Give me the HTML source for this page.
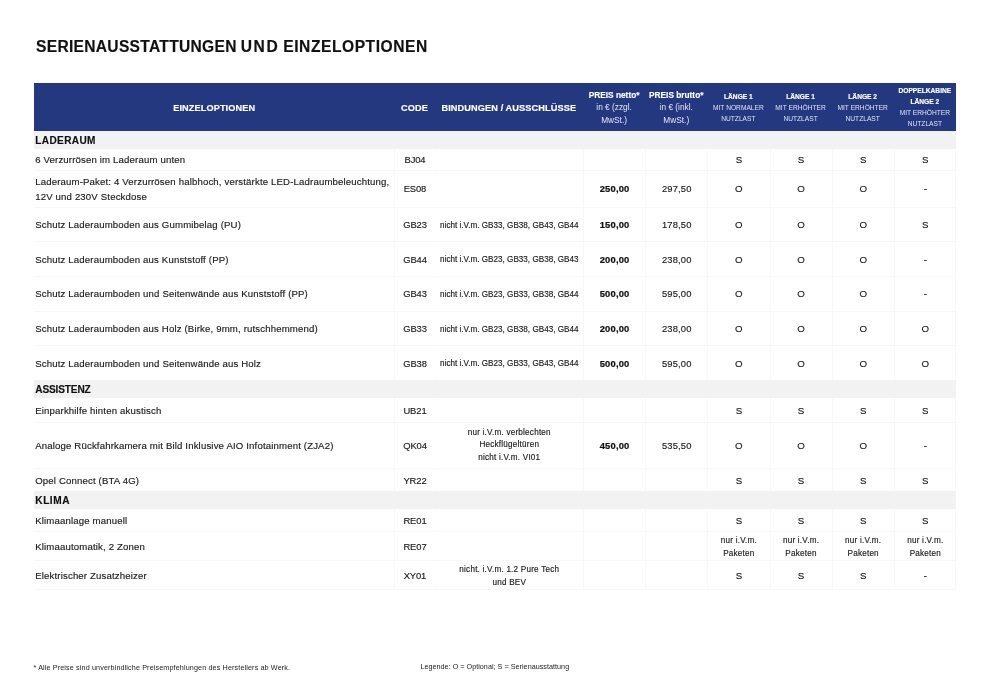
<!DOCTYPE html>
<html lang="de">
<head>
<meta charset="utf-8">
<title>Serienausstattungen und Einzeloptionen</title>
<style>
*{box-sizing:border-box;margin:0;padding:0}
html,body{width:990px;height:700px;background:#fff;overflow:hidden}
body{font-family:"Liberation Sans",sans-serif;color:#1a1a1a;-webkit-text-stroke:.15px}
.page{position:relative;width:990px;height:700px;background:#fff}
.title{position:absolute;left:0;top:38px;width:500px;height:18px;font-size:15.6px;line-height:18px;font-weight:700;color:#111;white-space:nowrap}
.title span{position:absolute;top:0}
.title .w1{left:36px;letter-spacing:.29px}
.title .w2{left:240.7px;letter-spacing:1.6px}
.title .w3{left:283.3px;letter-spacing:.54px}
.table{position:absolute;left:34px;top:83px;width:921.9px;height:507px}
.thead{position:absolute;left:0;width:100%;background:#243880;color:#fff}
.th{position:absolute;top:0;height:100%;display:flex;align-items:center;justify-content:center;text-align:center;white-space:nowrap}
.th.h1{font-size:9.2px;font-weight:700;padding-top:1px;letter-spacing:.1px}
.th.h2{font-size:8.3px;line-height:12.8px;color:#e3e7f4;-webkit-text-stroke:0;padding-top:1.4px}
.th.h2 b{color:#fff;-webkit-text-stroke:.15px}
.th.h3{font-size:6.65px;line-height:11.1px;color:#dfe4f3;padding-top:.8px;-webkit-text-stroke:0}
.th.h3 b{color:#fff;-webkit-text-stroke:.15px}
.sec{position:absolute;left:0;width:100%;background:#f2f2f2;padding-top:1.6px;font-size:10.1px;font-weight:700;color:#111;display:flex;align-items:center;padding-left:1.3px;white-space:nowrap}
.tr{position:absolute;left:0;width:100%;border-right:1px solid #f7f7f7}
.tr::after{content:"";position:absolute;left:0;right:0;bottom:-.5px;height:1px;background:#f7f7f7}
.td{position:absolute;top:0;height:100%;padding-top:.2px;display:flex;align-items:center;justify-content:center;text-align:center;font-size:9.4px;line-height:15px;white-space:nowrap;border-left:1px solid #f8f8f8}
.td.desc{justify-content:flex-start;text-align:left;padding-left:1.2px;border-left:0;font-size:9.6px;letter-spacing:.16px}
.td.code{letter-spacing:-.1px}
.td.bind,.td.note{font-size:8.15px;line-height:12.8px;letter-spacing:.22px}
.td.bind{border-left-color:#fcfcfc}
.td.bind.tight{letter-spacing:0}
.td.bind.tight span{position:relative;top:1.5px}
.td.bind span{position:relative;top:.5px}
.td.bind.two span,.td.note span{position:relative;top:1.5px}
.td.mark{font-size:9.7px}
.td.netto{font-weight:700;letter-spacing:.2px;color:#111;-webkit-text-stroke:.22px}
.td.brutto{letter-spacing:.15px}
.foot{position:absolute;-webkit-text-stroke:0;font-size:7.2px;line-height:10px;white-space:nowrap;color:#222}
.f1{left:33.5px;top:663px;letter-spacing:.13px}
.f2{left:420.4px;top:661.5px;letter-spacing:.03px}
</style>
</head>
<body>
<div class="page">
<h1 class="title"><span class="w1">SERIENAUSSTATTUNGEN</span> <span class="w2">UND</span> <span class="w3">EINZELOPTIONEN</span></h1>
<div class="table">
<div class="thead" style="top:0;height:48px">
<div class="th h1" style="left:0.0px;width:360.4px"><span>EINZELOPTIONEN</span></div>
<div class="th h1" style="left:360.4px;width:40.2px"><span>CODE</span></div>
<div class="th h1" style="left:400.6px;width:148.4px"><span>BINDUNGEN / AUSSCHLÜSSE</span></div>
<div class="th h2" style="left:549.0px;width:62.2px"><span><b>PREIS netto*</b><br>in € (zzgl.<br>MwSt.)</span></div>
<div class="th h2" style="left:611.2px;width:62.1px"><span><b>PREIS brutto*</b><br>in € (inkl.<br>MwSt.)</span></div>
<div class="th h3" style="left:673.3px;width:62.2px"><span><b>LÄNGE 1</b><br>MIT NORMALER<br>NUTZLAST</span></div>
<div class="th h3" style="left:735.5px;width:62.1px"><span><b>LÄNGE 1</b><br>MIT ERHÖHTER<br>NUTZLAST</span></div>
<div class="th h3" style="left:797.6px;width:62.2px"><span><b>LÄNGE 2</b><br>MIT ERHÖHTER<br>NUTZLAST</span></div>
<div class="th h3" style="left:859.8px;width:62.1px"><span><b>DOPPELKABINE<br>LÄNGE 2</b><br>MIT ERHÖHTER<br>NUTZLAST</span></div>
</div>
<div class="sec" style="top:48.0px;height:18.0px;letter-spacing:.35px"><span>LADERAUM</span></div>
<div class="tr" style="top:66.0px;height:21.5px">
<div class="td desc" style="left:0.0px;width:360.4px"><span>6 Verzurrösen im Laderaum unten</span></div>
<div class="td code" style="left:360.4px;width:40.2px"><span>BJ04</span></div>
<div class="td bind" style="left:400.6px;width:148.4px"><span></span></div>
<div class="td netto" style="left:549.0px;width:62.2px"><span></span></div>
<div class="td brutto" style="left:611.2px;width:62.1px"><span></span></div>
<div class="td mark" style="left:673.3px;width:62.2px"><span>S</span></div>
<div class="td mark" style="left:735.5px;width:62.1px"><span>S</span></div>
<div class="td mark" style="left:797.6px;width:62.2px"><span>S</span></div>
<div class="td mark" style="left:859.8px;width:62.1px"><span>S</span></div>
</div>
<div class="tr" style="top:87.5px;height:36.5px">
<div class="td desc" style="left:0.0px;width:360.4px"><span>Laderaum-Paket: 4 Verzurrösen halbhoch, verstärkte LED-Ladraumbeleuchtung,<br>12V und 230V Steckdose</span></div>
<div class="td code" style="left:360.4px;width:40.2px"><span>ES08</span></div>
<div class="td bind" style="left:400.6px;width:148.4px"><span></span></div>
<div class="td netto" style="left:549.0px;width:62.2px"><span>250,00</span></div>
<div class="td brutto" style="left:611.2px;width:62.1px"><span>297,50</span></div>
<div class="td mark" style="left:673.3px;width:62.2px"><span>O</span></div>
<div class="td mark" style="left:735.5px;width:62.1px"><span>O</span></div>
<div class="td mark" style="left:797.6px;width:62.2px"><span>O</span></div>
<div class="td mark" style="left:859.8px;width:62.1px"><span>-</span></div>
</div>
<div class="tr" style="top:124.0px;height:34.7px">
<div class="td desc" style="left:0.0px;width:360.4px"><span>Schutz Laderaumboden aus Gummibelag (PU)</span></div>
<div class="td code" style="left:360.4px;width:40.2px"><span>GB23</span></div>
<div class="td bind tight" style="left:400.6px;width:148.4px"><span>nicht i.V.m. GB33, GB38, GB43, GB44</span></div>
<div class="td netto" style="left:549.0px;width:62.2px"><span>150,00</span></div>
<div class="td brutto" style="left:611.2px;width:62.1px"><span>178,50</span></div>
<div class="td mark" style="left:673.3px;width:62.2px"><span>O</span></div>
<div class="td mark" style="left:735.5px;width:62.1px"><span>O</span></div>
<div class="td mark" style="left:797.6px;width:62.2px"><span>O</span></div>
<div class="td mark" style="left:859.8px;width:62.1px"><span>S</span></div>
</div>
<div class="tr" style="top:158.7px;height:34.7px">
<div class="td desc" style="left:0.0px;width:360.4px"><span>Schutz Laderaumboden aus Kunststoff (PP)</span></div>
<div class="td code" style="left:360.4px;width:40.2px"><span>GB44</span></div>
<div class="td bind tight" style="left:400.6px;width:148.4px"><span>nicht i.V.m. GB23, GB33, GB38, GB43</span></div>
<div class="td netto" style="left:549.0px;width:62.2px"><span>200,00</span></div>
<div class="td brutto" style="left:611.2px;width:62.1px"><span>238,00</span></div>
<div class="td mark" style="left:673.3px;width:62.2px"><span>O</span></div>
<div class="td mark" style="left:735.5px;width:62.1px"><span>O</span></div>
<div class="td mark" style="left:797.6px;width:62.2px"><span>O</span></div>
<div class="td mark" style="left:859.8px;width:62.1px"><span>-</span></div>
</div>
<div class="tr" style="top:193.4px;height:34.7px">
<div class="td desc" style="left:0.0px;width:360.4px"><span>Schutz Laderaumboden und Seitenwände aus Kunststoff (PP)</span></div>
<div class="td code" style="left:360.4px;width:40.2px"><span>GB43</span></div>
<div class="td bind tight" style="left:400.6px;width:148.4px"><span>nicht i.V.m. GB23, GB33, GB38, GB44</span></div>
<div class="td netto" style="left:549.0px;width:62.2px"><span>500,00</span></div>
<div class="td brutto" style="left:611.2px;width:62.1px"><span>595,00</span></div>
<div class="td mark" style="left:673.3px;width:62.2px"><span>O</span></div>
<div class="td mark" style="left:735.5px;width:62.1px"><span>O</span></div>
<div class="td mark" style="left:797.6px;width:62.2px"><span>O</span></div>
<div class="td mark" style="left:859.8px;width:62.1px"><span>-</span></div>
</div>
<div class="tr" style="top:228.1px;height:34.7px">
<div class="td desc" style="left:0.0px;width:360.4px"><span>Schutz Laderaumboden aus Holz (Birke, 9mm, rutschhemmend)</span></div>
<div class="td code" style="left:360.4px;width:40.2px"><span>GB33</span></div>
<div class="td bind tight" style="left:400.6px;width:148.4px"><span>nicht i.V.m. GB23, GB38, GB43, GB44</span></div>
<div class="td netto" style="left:549.0px;width:62.2px"><span>200,00</span></div>
<div class="td brutto" style="left:611.2px;width:62.1px"><span>238,00</span></div>
<div class="td mark" style="left:673.3px;width:62.2px"><span>O</span></div>
<div class="td mark" style="left:735.5px;width:62.1px"><span>O</span></div>
<div class="td mark" style="left:797.6px;width:62.2px"><span>O</span></div>
<div class="td mark" style="left:859.8px;width:62.1px"><span>O</span></div>
</div>
<div class="tr" style="top:262.8px;height:34.6px">
<div class="td desc" style="left:0.0px;width:360.4px"><span>Schutz Laderaumboden und Seitenwände aus Holz</span></div>
<div class="td code" style="left:360.4px;width:40.2px"><span>GB38</span></div>
<div class="td bind tight" style="left:400.6px;width:148.4px"><span>nicht i.V.m. GB23, GB33, GB43, GB44</span></div>
<div class="td netto" style="left:549.0px;width:62.2px"><span>500,00</span></div>
<div class="td brutto" style="left:611.2px;width:62.1px"><span>595,00</span></div>
<div class="td mark" style="left:673.3px;width:62.2px"><span>O</span></div>
<div class="td mark" style="left:735.5px;width:62.1px"><span>O</span></div>
<div class="td mark" style="left:797.6px;width:62.2px"><span>O</span></div>
<div class="td mark" style="left:859.8px;width:62.1px"><span>O</span></div>
</div>
<div class="sec" style="top:297.4px;height:17.6px;letter-spacing:-.15px"><span>ASSISTENZ</span></div>
<div class="tr" style="top:315.0px;height:24.0px">
<div class="td desc" style="left:0.0px;width:360.4px"><span>Einparkhilfe hinten akustisch</span></div>
<div class="td code" style="left:360.4px;width:40.2px"><span>UB21</span></div>
<div class="td bind" style="left:400.6px;width:148.4px"><span></span></div>
<div class="td netto" style="left:549.0px;width:62.2px"><span></span></div>
<div class="td brutto" style="left:611.2px;width:62.1px"><span></span></div>
<div class="td mark" style="left:673.3px;width:62.2px"><span>S</span></div>
<div class="td mark" style="left:735.5px;width:62.1px"><span>S</span></div>
<div class="td mark" style="left:797.6px;width:62.2px"><span>S</span></div>
<div class="td mark" style="left:859.8px;width:62.1px"><span>S</span></div>
</div>
<div class="tr" style="top:339.0px;height:46.6px">
<div class="td desc" style="left:0.0px;width:360.4px"><span>Analoge Rückfahrkamera mit Bild Inklusive AIO Infotainment (ZJA2)</span></div>
<div class="td code" style="left:360.4px;width:40.2px"><span>QK04</span></div>
<div class="td bind" style="left:400.6px;width:148.4px"><span>nur i.V.m. verblechten<br>Heckflügeltüren<br>nicht i.V.m. VI01</span></div>
<div class="td netto" style="left:549.0px;width:62.2px"><span>450,00</span></div>
<div class="td brutto" style="left:611.2px;width:62.1px"><span>535,50</span></div>
<div class="td mark" style="left:673.3px;width:62.2px"><span>O</span></div>
<div class="td mark" style="left:735.5px;width:62.1px"><span>O</span></div>
<div class="td mark" style="left:797.6px;width:62.2px"><span>O</span></div>
<div class="td mark" style="left:859.8px;width:62.1px"><span>-</span></div>
</div>
<div class="tr" style="top:385.6px;height:22.8px">
<div class="td desc" style="left:0.0px;width:360.4px"><span>Opel Connect (BTA 4G)</span></div>
<div class="td code" style="left:360.4px;width:40.2px"><span>YR22</span></div>
<div class="td bind" style="left:400.6px;width:148.4px"><span></span></div>
<div class="td netto" style="left:549.0px;width:62.2px"><span></span></div>
<div class="td brutto" style="left:611.2px;width:62.1px"><span></span></div>
<div class="td mark" style="left:673.3px;width:62.2px"><span>S</span></div>
<div class="td mark" style="left:735.5px;width:62.1px"><span>S</span></div>
<div class="td mark" style="left:797.6px;width:62.2px"><span>S</span></div>
<div class="td mark" style="left:859.8px;width:62.1px"><span>S</span></div>
</div>
<div class="sec" style="top:408.4px;height:17.2px;letter-spacing:.55px"><span>KLIMA</span></div>
<div class="tr" style="top:425.6px;height:22.8px">
<div class="td desc" style="left:0.0px;width:360.4px"><span>Klimaanlage manuell</span></div>
<div class="td code" style="left:360.4px;width:40.2px"><span>RE01</span></div>
<div class="td bind" style="left:400.6px;width:148.4px"><span></span></div>
<div class="td netto" style="left:549.0px;width:62.2px"><span></span></div>
<div class="td brutto" style="left:611.2px;width:62.1px"><span></span></div>
<div class="td mark" style="left:673.3px;width:62.2px"><span>S</span></div>
<div class="td mark" style="left:735.5px;width:62.1px"><span>S</span></div>
<div class="td mark" style="left:797.6px;width:62.2px"><span>S</span></div>
<div class="td mark" style="left:859.8px;width:62.1px"><span>S</span></div>
</div>
<div class="tr" style="top:448.4px;height:29.6px">
<div class="td desc" style="left:0.0px;width:360.4px"><span>Klimaautomatik, 2 Zonen</span></div>
<div class="td code" style="left:360.4px;width:40.2px"><span>RE07</span></div>
<div class="td bind" style="left:400.6px;width:148.4px"><span></span></div>
<div class="td netto" style="left:549.0px;width:62.2px"><span></span></div>
<div class="td brutto" style="left:611.2px;width:62.1px"><span></span></div>
<div class="td note" style="left:673.3px;width:62.2px"><span>nur i.V.m.<br>Paketen</span></div>
<div class="td note" style="left:735.5px;width:62.1px"><span>nur i.V.m.<br>Paketen</span></div>
<div class="td note" style="left:797.6px;width:62.2px"><span>nur i.V.m.<br>Paketen</span></div>
<div class="td note" style="left:859.8px;width:62.1px"><span>nur i.V.m.<br>Paketen</span></div>
</div>
<div class="tr" style="top:478.0px;height:28.7px">
<div class="td desc" style="left:0.0px;width:360.4px"><span>Elektrischer Zusatzheizer</span></div>
<div class="td code" style="left:360.4px;width:40.2px"><span>XY01</span></div>
<div class="td bind two" style="left:400.6px;width:148.4px"><span>nicht. i.V.m. 1.2 Pure Tech<br>und BEV</span></div>
<div class="td netto" style="left:549.0px;width:62.2px"><span></span></div>
<div class="td brutto" style="left:611.2px;width:62.1px"><span></span></div>
<div class="td mark" style="left:673.3px;width:62.2px"><span>S</span></div>
<div class="td mark" style="left:735.5px;width:62.1px"><span>S</span></div>
<div class="td mark" style="left:797.6px;width:62.2px"><span>S</span></div>
<div class="td mark" style="left:859.8px;width:62.1px"><span>-</span></div>
</div>
</div>
<p class="foot f1">* Alle Preise sind unverbindliche Preisempfehlungen des Herstellers ab Werk.</p>
<p class="foot f2">Legende: O = Optional; S = Serienausstattung</p>
</div>
</body>
</html>
